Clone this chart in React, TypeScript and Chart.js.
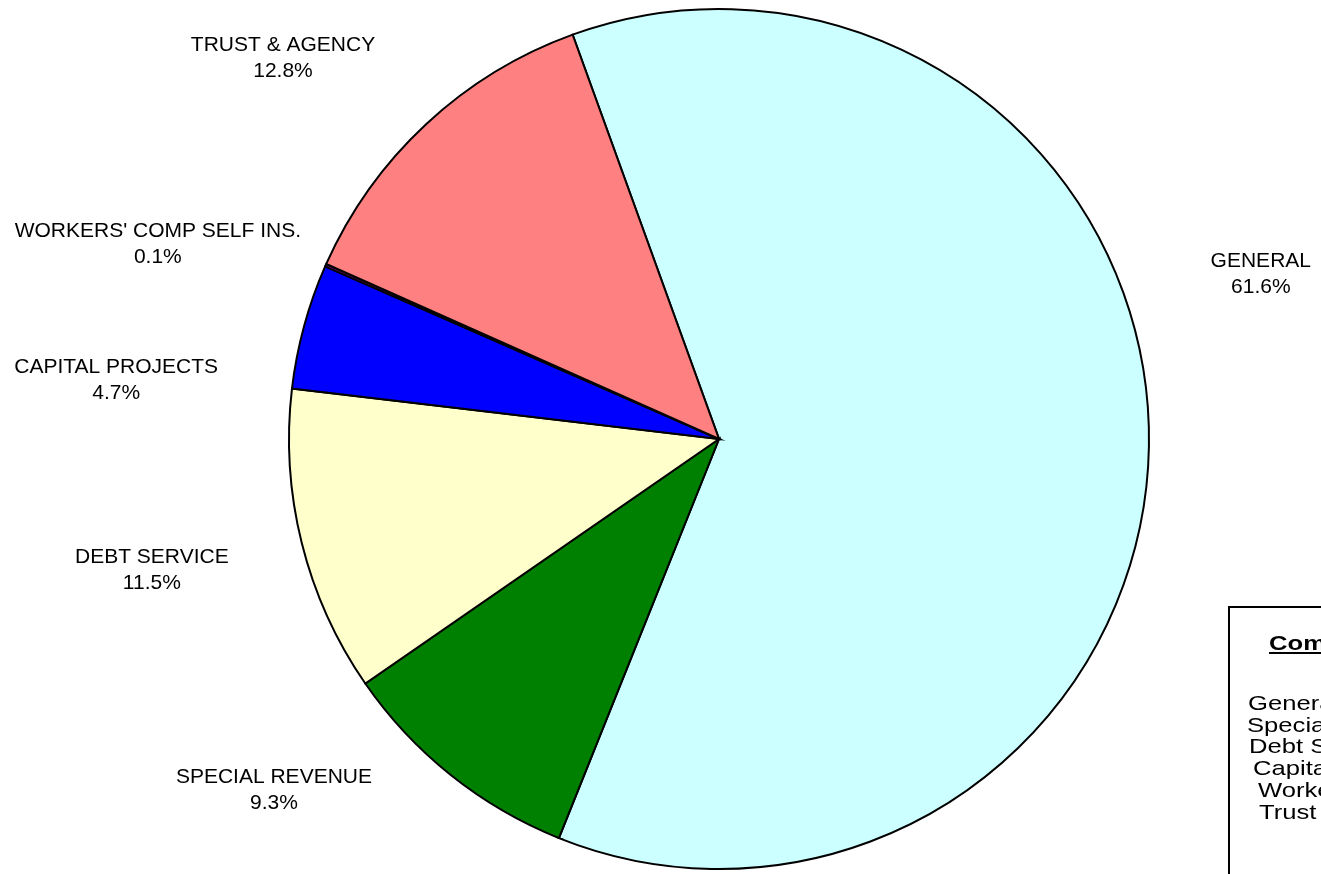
import React, { useEffect, useRef } from "react";
import { Chart, registerables } from "chart.js";

Chart.register(...registerables);

const categories = ["GENERAL", "SPECIAL REVENUE", "DEBT SERVICE", "CAPITAL PROJECTS", "WORKERS' COMP SELF INS.", "TRUST & AGENCY"];
const percentages = [61.6, 9.3, 11.5, 4.7, 0.1, 12.8];
const sliceColors = ["#CCFFFF", "#008000", "#FFFFCC", "#0000FF", "#800080", "#FF8080"];
const legendTitle = "Comparison";
const legendRows = ["General", "Special Revenue", "Debt Service", "Capital Projects", "Workers' Comp Self Ins.", "Trust & Agency"];

// label block centres, in units of the pie's outer radius, relative to the pie centre
const labelOffsets: [number, number][] = [
  [1.26, -0.386],
  [-1.035, 0.814],
  [-1.319, 0.302],
  [-1.402, -0.14],
  [-1.305, -0.456],
  [-1.014, -0.888],
];

const labelPlugin = {
  id: "outerLabels",
  afterDatasetsDraw(chart: any) {
    const ctx = chart.ctx;
    const meta = chart.getDatasetMeta(0);
    ctx.save();
    ctx.fillStyle = "#000";
    ctx.font = "21px 'Liberation Sans', Arial, sans-serif";
    ctx.textAlign = "center";
    ctx.textBaseline = "middle";
    meta.data.forEach((arc: any, i: number) => {
      const r = arc.outerRadius;
      const cx = arc.x + labelOffsets[i][0] * r;
      const cy = arc.y + labelOffsets[i][1] * r;
      ctx.fillText(categories[i], cx, cy - 12);
      ctx.fillText(percentages[i].toFixed(1) + "%", cx, cy + 14);
    });
    ctx.restore();
  },
};

export default function App() {
  const ref = useRef<HTMLCanvasElement | null>(null);
  useEffect(() => {
    if (!ref.current) return;
    const chart = new Chart(ref.current, {
      type: "pie",
      data: {
        labels: categories,
        datasets: [
          {
            data: percentages,
            backgroundColor: sliceColors,
            borderColor: "#000",
            borderWidth: 2,
            borderJoinStyle: "miter",
          } as any,
        ],
      },
      options: {
        animation: false,
        responsive: false,
        rotation: -19.9,
        layout: { padding: { top: 8, bottom: 4, left: 288, right: 171 } },
        plugins: {
          legend: { display: false },
          tooltip: { enabled: false },
        },
      },
      plugins: [labelPlugin],
    });
    return () => chart.destroy();
  }, []);

  const indents = [18, 17, 19, 23, 28, 29];
  const textStyle: React.CSSProperties = {
    position: "absolute",
    lineHeight: "22px",
    transform: "scaleX(1.22)",
    transformOrigin: "left center",
  };
  return (
    <div style={{ position: "fixed", left: 0, top: 0, width: 1321, height: 874, overflow: "hidden", background: "#fff" }}>
      <canvas ref={ref} width={1321} height={874} style={{ position: "absolute", left: 0, top: 0, width: 1321, height: 874 }} />
      <div
        style={{
          position: "absolute",
          left: 1228,
          top: 606,
          width: 400,
          height: 400,
          border: "2px solid #000",
          fontFamily: "'Liberation Sans', Arial, sans-serif",
          fontSize: 21,
          color: "#000",
          whiteSpace: "nowrap",
        }}
      >
        <div style={{ ...textStyle, left: 39, top: 24, fontWeight: "bold", textDecoration: "underline" }}>{legendTitle}</div>
        {legendRows.map((t, i) => (
          <div key={t} style={{ ...textStyle, left: indents[i], top: 84 + i * 21.7 }}>
            {t}
          </div>
        ))}
      </div>
    </div>
  );
}
